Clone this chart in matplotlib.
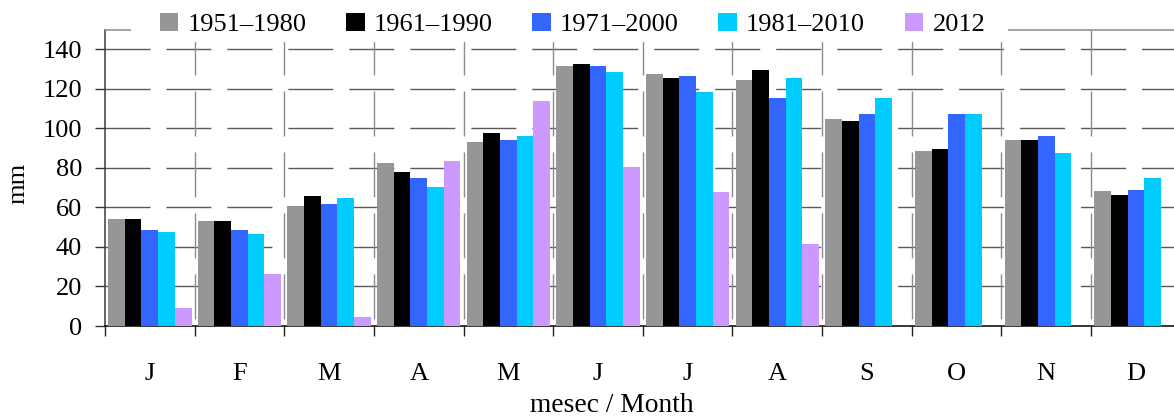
import numpy as np
import matplotlib
matplotlib.use("Agg")
import matplotlib.pyplot as plt
from matplotlib.patches import Rectangle

plt.rcParams['font.family'] = ['Liberation Serif', 'DejaVu Serif']
plt.rcParams['lines.scale_dashes'] = False

months = ['J', 'F', 'M', 'A', 'M', 'J', 'J', 'A', 'S', 'O', 'N', 'D']
series_names = ['1951\u20131980', '1961\u20131990', '1971\u20132000', '1981\u20132010', '2012']
p1951_1980 = [54, 53, 60.5, 82.5, 93, 131.5, 127.5, 124.5, 104.5, 88.5, 94, 68.5]
p1961_1990 = [54, 53, 66, 78, 97.5, 132.5, 125.5, 129.5, 103.5, 89.5, 94, 66.5]
p1971_2000 = [48.5, 48.5, 61.5, 75, 94, 131.5, 126.5, 115.5, 107, 107, 96, 69]
p1981_2010 = [47.5, 46.5, 65, 70.5, 96, 128.5, 118.5, 125.5, 115.5, 107, 87.5, 75]
p2012 = [9, 26.5, 4.5, 83.5, 114, 80.5, 68, 41.5, None, None, None, None]
yticks = [0, 20, 40, 60, 80, 100, 120, 140]

colors = ['#969696', '#000000', '#3366FF', '#00CCFF', '#CC99FF']
series = [p1951_1980, p1961_1990, p1971_2000, p1981_2010, p2012]

W, H = 1174, 419
fig = plt.figure(figsize=(W / 100, H / 100), dpi=100)
px = lambda x0, y0, x1, y1: [x0 / W, 1 - y1 / H, (x1 - x0) / W, (y1 - y0) / H]
ax = fig.add_axes(px(105, 29.5, 1180.7, 326))

FS = 19
x = np.arange(len(months))
bw = 0.186
for i, (vals, c, name) in enumerate(zip(series, colors, series_names)):
    v = np.array([np.nan if a is None else a for a in vals], dtype=float)
    ax.bar(x + (i - 2) * bw, v, width=bw, color=c, linewidth=0, label=name, zorder=3)

ax.set_xlim(-0.5, len(months) - 0.5)
ax.set_ylim(0, 150)

# grid lines
for yv in yticks[1:]:
    ax.axhline(yv, color='#5a5a5a', lw=1.0, ls=(0, (32.4, 11.5)), zorder=1)
for b in np.arange(0.5, len(months) - 0.5, 1.0):
    ax.axvline(b, ymin=1, ymax=0, color='#8c8c8c', lw=1.0, ls=(0, (32.4, 11.5)), zorder=1)

# ticks
ax.set_yticks(yticks)
ax.set_yticklabels([str(t) for t in yticks], fontsize=FS)
ax.tick_params(axis='y', direction='out', length=7.2, width=1.0, color='#333333', pad=9.4)
ax.set_xticks(np.arange(-0.5, len(months), 1.0))
ax.set_xticklabels([])
ax.set_xticks(x, minor=True)
ax.set_xticklabels(months, minor=True, fontsize=FS)
ax.tick_params(axis='x', which='major', direction='out', length=7.2, width=1.0, color='#222222')
ax.tick_params(axis='x', which='minor', length=0, pad=26.5)

for s in ['left']:
    ax.spines[s].set_color('#3a3a3a')
    ax.spines[s].set_linewidth(1.1)
ax.spines['bottom'].set_color('black')
ax.spines['bottom'].set_linewidth(1.1)
ax.spines['top'].set_color('#8a8a8a')
ax.spines['top'].set_linewidth(1.1)
ax.spines['right'].set_visible(False)

fig.text(18 / W, 1 - 183 / H, 'mm', rotation=90, ha='center', va='center', fontsize=FS)
fig.text(612 / W, 1 - 412 / H, 'mesec / Month', ha='center', va='baseline', fontsize=19.8)

# white backing for legend
fig.add_artist(Rectangle((131 / W, 1 - 42 / H), (1008 - 131) / W, 40 / H,
                         transform=fig.transFigure, facecolor='white', edgecolor='none', zorder=1))
handles, labels = ax.get_legend_handles_labels()
fig.legend(handles, labels, ncol=5, loc='center', bbox_to_anchor=(572.5 / W, 1 - 24.5 / H),
           frameon=False, fontsize=FS, handlelength=0.71, handleheight=0.71,
           handletextpad=0.34, columnspacing=1.5, borderpad=0.0)

fig.savefig('out.png', dpi=100)
